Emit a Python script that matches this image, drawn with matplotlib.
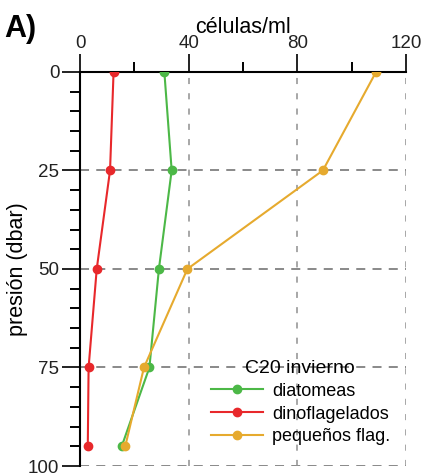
import numpy as np
import matplotlib
matplotlib.use("Agg")
from matplotlib import pyplot as plt
from matplotlib.ticker import MultipleLocator

plt.rcParams['font.family'] = ['Liberation Sans', 'DejaVu Sans']

# data
presion = [0, 25, 50, 75, 95]
diatomeas = [31, 33.7, 29, 25.5, 15.3]
dinoflagelados = [12.3, 11, 6.1, 3.1, 2.8]
pequenos_flag = [109, 89.4, 39.5, 23.5, 16.6]

series = [
    ("diatomeas", diatomeas, "#4cb847"),
    ("dinoflagelados", dinoflagelados, "#e8282b"),
    ("pequeños flag.", pequenos_flag, "#e6aa2e"),
]

fig = plt.figure(figsize=(4.22, 4.76), dpi=100)
ax = fig.add_axes([0.19, 0.021, 0.772, 0.828])

for label, vals, col in series:
    ax.plot(vals, presion, color=col, lw=1.5, marker="o", ms=6, label=label, zorder=3)

ax.set_xlim(0, 120)
ax.set_ylim(100, 0)
ax.xaxis.tick_top()
ax.xaxis.set_label_position("top")
ax.xaxis.set_major_locator(MultipleLocator(40))
ax.xaxis.set_minor_locator(MultipleLocator(20))
ax.yaxis.set_major_locator(MultipleLocator(25))
ax.yaxis.set_minor_locator(MultipleLocator(5))
ax.tick_params(which="major", length=13, width=1.4, labelsize=13.5, colors="#222222")
ax.tick_params(which="minor", length=7, width=1.4)
ax.tick_params(axis="y", pad=2)
ax.tick_params(axis="x", pad=1)
ax.spines["right"].set_visible(False)
ax.spines["bottom"].set_visible(False)
ax.spines["left"].set_linewidth(1.5)
ax.spines["top"].set_linewidth(1.5)

# dashed grid: horizontal darker, vertical lighter
for yv in [25, 50, 75, 100]:
    ax.axhline(yv, ls=(0, (5, 4)), color="#808080", lw=1.3, zorder=1)
for xv in [40, 80, 120]:
    ax.axvline(xv, ls=(0, (4, 6)), color="#909090", lw=1.1, zorder=1)

ax.set_xlabel("células/ml", fontsize=15.5, labelpad=2)
ax.set_ylabel("presión (dbar)", fontsize=15.5, labelpad=0)

leg = ax.legend(title="C20 invierno", loc="lower right", frameon=False,
                fontsize=13, title_fontsize=14, handlelength=2.9,
                borderpad=0.2, labelspacing=0.33, handletextpad=0.5,
                bbox_to_anchor=(0.99, 0.02))

fig.text(0.01, 0.922, "A)", fontsize=22, fontweight="bold")

fig.savefig("out.png", dpi=100)
